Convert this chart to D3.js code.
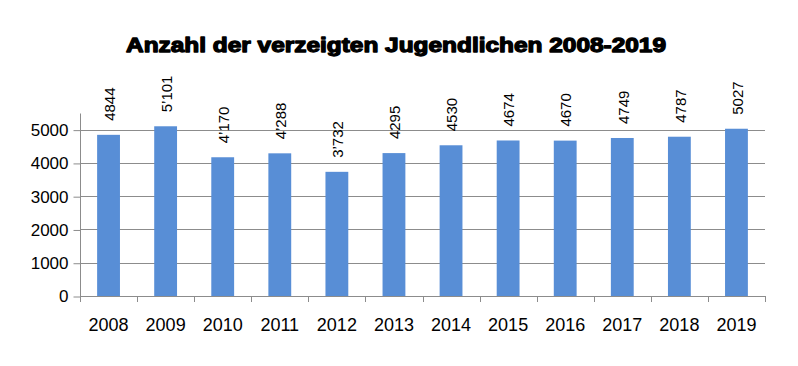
<!DOCTYPE html>
<html>
<head>
<meta charset="utf-8">
<script src="https://cdn.jsdelivr.net/npm/d3@7"></script>
<style>
  html, body { margin: 0; padding: 0; background: #fff; }
  svg { display: block; }
</style>
</head>
<body>
<svg id="chart" width="798" height="366"></svg>
<script>
const title = "Anzahl der verzeigten Jugendlichen 2008-2019";
const years = ["2008","2009","2010","2011","2012","2013","2014","2015","2016","2017","2018","2019"];
const values = [4844, 5101, 4170, 4288, 3732, 4295, 4530, 4674, 4670, 4749, 4787, 5027];
const valueLabels = ["4844","5\u2019101","4\u2019170","4\u2019288","3\u2019732","4295","4530","4674","4670","4749","4787","5027"];
const yTicks = [0, 1000, 2000, 3000, 4000, 5000];
const yMax = 5500;

const svg = d3.select("#chart");
const mLeft = 80, mRight = 765, mTop = 113, mBottom = 296;
const font = "'Liberation Sans', Arial, sans-serif";
const gridColor = "#8c8c8c";

const x = d3.scaleBand().domain(years).range([mLeft, mRight]).paddingInner(0.6).paddingOuter(0.3);
const xb = d3.scaleBand().domain(years).range([mLeft, mRight]);
const y = d3.scaleLinear().domain([0, yMax]).range([mBottom, mTop]);

// title
svg.append("text")
  .attr("x", 396).attr("y", 52)
  .attr("text-anchor", "middle")
  .attr("font-family", font)
  .attr("font-weight", "bold")
  .attr("font-size", 20.5)
  .attr("fill", "#000")
  .attr("stroke", "#000").attr("stroke-width", 1.3)
  .attr("stroke-linejoin", "round")
  .attr("textLength", 540).attr("lengthAdjust", "spacingAndGlyphs")
  .text(title);

// gridlines
svg.append("g").selectAll("line").data(yTicks.filter(d => d > 0)).join("line")
  .attr("x1", mLeft).attr("x2", mRight)
  .attr("y1", d => Math.round(y(d)) + 0.5).attr("y2", d => Math.round(y(d)) + 0.5)
  .attr("stroke", gridColor).attr("stroke-width", 1);

// y axis
const yAxis = d3.axisLeft(y).tickValues(yTicks).tickSize(7).tickPadding(5).tickFormat(d3.format("d"));
const gy = svg.append("g").attr("transform", `translate(${mLeft + 0.5},0.5)`).call(yAxis);
gy.select(".domain").attr("d", `M0,${mTop}V${mBottom}`).attr("stroke", gridColor);
gy.selectAll(".tick line").attr("stroke", gridColor);
gy.selectAll(".tick text").attr("font-family", font).attr("font-size", 17).attr("fill", "#000");

// bars
svg.append("g").selectAll("rect").data(values).join("rect")
  .attr("x", (d, i) => x(years[i]))
  .attr("width", x.bandwidth())
  .attr("y", d => y(d))
  .attr("height", d => y(0) - y(d))
  .attr("fill", "#588ED6");

// x axis line and ticks
const gx = svg.append("g");
gx.append("line").attr("x1", mLeft).attr("x2", mRight + 1)
  .attr("y1", mBottom + 0.5).attr("y2", mBottom + 0.5).attr("stroke", gridColor);
const bounds = years.map(d => xb(d)).concat([mRight]);
gx.selectAll("line.tk").data(bounds).join("line").attr("class", "tk")
  .attr("x1", d => Math.round(d) + 0.5).attr("x2", d => Math.round(d) + 0.5)
  .attr("y1", mBottom).attr("y2", mBottom + 6).attr("stroke", gridColor);
gx.selectAll("text").data(years).join("text")
  .attr("x", d => xb(d) + xb.bandwidth() / 2)
  .attr("y", 331)
  .attr("text-anchor", "middle")
  .attr("font-family", font).attr("font-size", 18).attr("fill", "#000")
  .text(d => d);

// value labels
svg.append("g").selectAll("text").data(values).join("text")
  .attr("transform", (d, i) => `translate(${x(years[i]) + x.bandwidth() / 2 + 1},${y(d) - 14}) rotate(-90)`)
  .attr("dy", "0.35em")
  .attr("text-anchor", "start")
  .attr("font-family", font).attr("font-size", 15).attr("fill", "#000")
  .text((d, i) => valueLabels[i]);
</script>
</body>
</html>
